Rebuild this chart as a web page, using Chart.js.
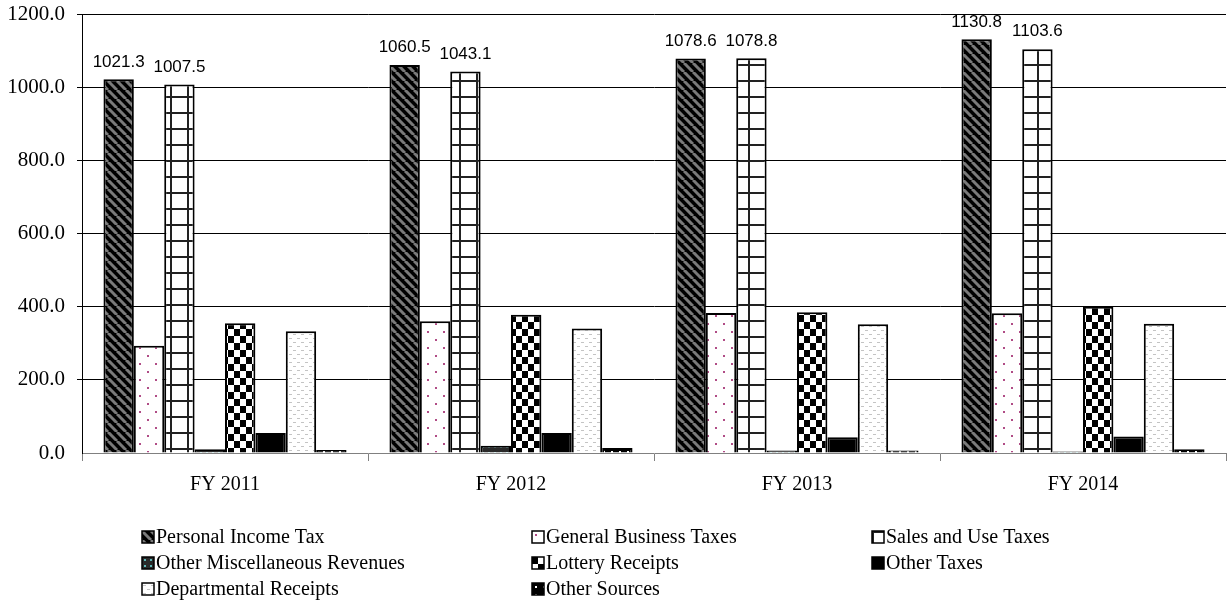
<!DOCTYPE html>
<html>
<head>
<meta charset="utf-8">
<script src="https://cdn.jsdelivr.net/npm/chart.js@4.4.0/dist/chart.umd.min.js"></script>
<style>
  html, body { margin: 0; padding: 0; background: #fff; }
  #wrap { width: 1228px; height: 606px; }
</style>
</head>
<body>
<div id="wrap"><canvas id="revChart" width="1228" height="606"></canvas></div>
<script>

const years = ['FY 2011', 'FY 2012', 'FY 2013', 'FY 2014'];

const personalIncome = [1021.3, 1060.5, 1078.6, 1130.8];
const generalBusiness = [293, 360, 383, 382];
const salesUse = [1007.5, 1043.1, 1078.8, 1103.6];
const otherMisc = [10, 20, 7, 4];
const lottery = [355, 378, 385, 400];
const otherTaxes = [55, 55, 43, 45];
const departmental = [333, 340, 352, 353];
const otherSources = [8, 14, 7, 10];

const yTicks = [0, 200, 400, 600, 800, 1000, 1200];


// small tiles for the hatch fills
function tile(w, h, paint){
  let c = document.createElement('canvas')
  c.width = w
  c.height = h
  let g = c.getContext('2d')
  paint(g, w, h)
  return c.getContext('2d').createPattern(c, 'repeat')
}

let fills = {
  stripes: tile(9, 9, (g, w, h) => {
    g.fillStyle = '#000'
    g.fillRect(0, 0, w, h)
    g.strokeStyle = '#7a7a7a'
    g.lineWidth = 3
    for (let k = -1; k <= 1; k++) {
      g.beginPath()
      g.moveTo(k * w, 0)
      g.lineTo(k * w + w, h)
      g.stroke()
    }
  }),
  pinkDots: tile(16, 16, (g, w, h) => {
    g.fillStyle = '#fff'
    g.fillRect(0, 0, w, h)
    g.fillStyle = '#b04c86'
    g.fillRect(3, 3, 2, 2)
    g.fillRect(11, 11, 2, 2)
  }),
  grid: tile(17, 16, (g, w, h) => {
    g.fillStyle = '#fff'
    g.fillRect(0, 0, w, h)
    g.fillStyle = '#222'
    g.fillRect(0, 0, 2, h)
    g.fillRect(0, 0, w, 2)
  }),
  tealDots: tile(6, 6, (g, w, h) => {
    g.fillStyle = '#2a2a2a'
    g.fillRect(0, 0, w, h)
    g.fillStyle = '#5fb8b8'
    g.fillRect(2, 2, 2, 2)
  }),
  checker: tile(12, 14, (g, w, h) => {
    g.fillStyle = '#fff'
    g.fillRect(0, 0, w, h)
    g.fillStyle = '#000'
    g.fillRect(0, 0, 6, 7)
    g.fillRect(6, 7, 6, 7)
  }),
  greyDash: tile(8, 8, (g, w, h) => {
    g.fillStyle = '#fff'
    g.fillRect(0, 0, w, h)
    g.fillStyle = '#c4c4c4'
    g.fillRect(1, 2, 3, 1)
    g.fillRect(5, 6, 3, 1)
  }),
  whiteDots: tile(8, 8, (g, w, h) => {
    g.fillStyle = '#000'
    g.fillRect(0, 0, w, h)
    g.fillStyle = '#fff'
    g.fillRect(3, 3, 2, 2)
  })
}


let dsets = [
  { label: 'Personal Income Tax', data: personalIncome, backgroundColor: fills.stripes, showValue: true },
  { label: 'General Business Taxes', data: generalBusiness, backgroundColor: fills.pinkDots },
  { label: 'Sales and Use Taxes', data: salesUse, backgroundColor: fills.grid, showValue: true },
  { label: 'Other Miscellaneous Revenues', data: otherMisc, backgroundColor: fills.tealDots },
  { label: 'Lottery Receipts', data: lottery, backgroundColor: fills.checker },
  { label: 'Other Taxes', data: otherTaxes, backgroundColor: '#000' },
  { label: 'Departmental Receipts', data: departmental, backgroundColor: fills.greyDash },
  { label: 'Other Sources', data: otherSources, backgroundColor: fills.whiteDots }
]

dsets.forEach(d => {
  d.borderColor = '#000'
  d.borderWidth = 2
  d.borderSkipped = 'bottom'
})


// value labels over the two tall series
const valueLabels = {
  id: 'valueLabels',
  afterDatasetsDraw(chart){
    let ctx = chart.ctx
    ctx.save()
    ctx.font = '17px "Liberation Sans", Arial, sans-serif'
    ctx.fillStyle = '#000'
    ctx.textAlign = 'center'
    ctx.textBaseline = 'bottom'
    chart.data.datasets.forEach((ds, i) => {
      if (!ds.showValue) return
      chart.getDatasetMeta(i).data.forEach((bar, j) => {
        ctx.fillText(ds.data[j].toFixed(1), bar.x, bar.y - 9)
      })
    })
    ctx.restore()
  }
}


// three-column key under the axis
const gridLegend = {
  id: 'gridLegend',
  afterDraw(chart){
    let ctx = chart.ctx
    let cols = [142, 532, 872]
    let top = 537
    ctx.save()
    ctx.font = '20px "Liberation Serif", "Times New Roman", serif'
    ctx.textBaseline = 'middle'
    ctx.textAlign = 'left'
    chart.data.datasets.forEach((ds, i) => {
      let x = cols[i % 3]
      let y = top + Math.floor(i / 3) * 26
      ctx.save()
      ctx.translate(x, y - 6)
      ctx.fillStyle = ds.backgroundColor
      ctx.fillRect(0, 0, 12, 12)
      ctx.strokeStyle = '#000'
      ctx.lineWidth = 1.5
      ctx.strokeRect(0, 0, 12, 12)
      ctx.restore()
      ctx.fillStyle = '#000'
      ctx.fillText(ds.label, x + 14, y + 1)
    })
    ctx.restore()
  }
}


new Chart(
  document.getElementById('revChart'),
  {
    type: 'bar',
    data: {
      labels: years,
      datasets: dsets
    },
    options: {
      responsive: false,
      animation: false,
      devicePixelRatio: 1,
      categoryPercentage: 0.85,
      barPercentage: 1.0,
      layout: {
        padding: { top: 14, right: 2, bottom: 0, left: 0 }
      },
      plugins: {
        legend: { display: false },
        tooltip: { enabled: false }
      },
      scales: {
        x: {
          afterFit: (scale) => { scale.height = 153 },
          grid: {
            offset: true,
            drawOnChartArea: false,
            drawTicks: true,
            tickLength: 8,
            color: '#808080'
          },
          border: { display: true, color: '#808080', width: 1 },
          ticks: {
            color: '#000',
            padding: 12,
            font: { family: '"Liberation Serif", "Times New Roman", serif', size: 20 }
          }
        },
        y: {
          min: 0,
          max: 1200,
          afterFit: (scale) => {
            scale.width = 82
            scale.paddingTop = 0
            scale.paddingBottom = 0
          },
          afterBuildTicks: (scale) => { scale.ticks = yTicks.map(v => ({ value: v })) },
          grid: {
            color: (c) => c.tick && c.tick.value === 0 ? 'rgba(0,0,0,0)' : '#000',
            lineWidth: 1,
            drawTicks: true,
            tickLength: 5
          },
          border: { display: true, color: '#000', width: 1 },
          ticks: {
            color: '#000',
            padding: 12,
            font: { family: '"Liberation Serif", "Times New Roman", serif', size: 21 },
            callback: (v) => Number(v).toFixed(1)
          }
        }
      }
    },
    plugins: [valueLabels, gridLegend]
  }
);

</script>
</body>
</html>
